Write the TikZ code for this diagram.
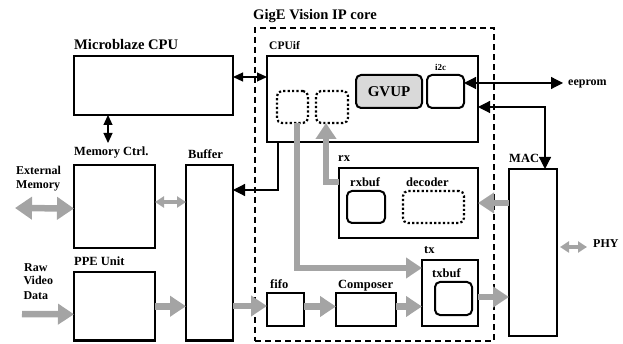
\documentclass[tikz,border=0pt]{standalone}
\usepackage{fontspec}
\setmainfont{Liberation Serif}
\usetikzlibrary{arrows.meta}
\definecolor{garrc}{HTML}{A4A4A4}
\definecolor{gfill}{HTML}{D9D9D9}
\begin{document}
\begin{tikzpicture}[x=1pt,y=-1pt,
  blk/.style={draw, line width=2.5pt, inner sep=0pt, outer sep=0pt, anchor=north west},
  gigebox/.style={draw, line width=1.5pt, dash pattern=on 6pt off 4pt, inner sep=0pt, outer sep=0pt, anchor=north west},
  rbox/.style={draw, line width=2pt, rounded corners=5pt, inner sep=0pt, outer sep=0pt, anchor=north west},
  dbox/.style={draw, line width=2.2pt, dash pattern=on 2.2pt off 2.2pt, rounded corners=5pt, inner sep=0pt, outer sep=0pt, anchor=north west},
  lab/.style={anchor=base west, inner sep=0pt, font=\bfseries\fontsize{12.5}{14}\selectfont},
  slab/.style={anchor=base west, inner sep=0pt, font=\bfseries\fontsize{12}{14}\selectfont},
  biglab/.style={anchor=base west, inner sep=0pt, font=\bfseries\fontsize{14.6}{18}\selectfont},
  barr/.style={line width=1.2pt, {Triangle[width=12pt,length=12pt]}-{Triangle[width=12pt,length=12pt]}},
  barrS/.style={line width=1.2pt, {Triangle[width=9pt,length=10pt]}-{Triangle[width=9pt,length=10pt]}},
  garr/.style={draw=garrc, line width=6.5pt, -{Triangle[width=20pt,length=16pt]}},
  gdbl/.style={draw=garrc, line width=6.5pt, {Triangle[width=22pt,length=17pt]}-{Triangle[width=22pt,length=17pt]}},
  gsm/.style={draw=garrc, line width=3.5pt, {Triangle[width=11pt,length=9pt]}-{Triangle[width=11pt,length=9pt]}}
]
\useasboundingbox (0,0) rectangle (623,344);

% GigE dashed container
\node[gigebox, minimum width=239pt, minimum height=313pt] (gige) at (255,28) {};
\node[biglab] (gigel) at (253,20) {GigE Vision IP core};

% boxes
\node[blk, minimum width=159pt, minimum height=59pt] (mb) at (74,56) {};
\node[biglab] (mbl) at (74,49.5) {Microblaze CPU};

\node[blk, minimum width=211pt, minimum height=86pt] (cpuif) at (267,56) {};
\node[anchor=base west, inner sep=0pt, font=\bfseries\fontsize{11.5}{14}\selectfont] (cpuifl) at (269,50) {CPUif};
\node[dbox, minimum width=31pt, minimum height=32pt] (d1) at (277,91) {};
\node[dbox, minimum width=32pt, minimum height=32pt] (d2) at (316,91) {};
\node[rbox, fill=gfill, minimum width=66pt, minimum height=33pt, font=\bfseries\fontsize{15}{18}\selectfont] (gvup) at (356,75) {GVUP};
\node[rbox, minimum width=37pt, minimum height=33pt] (i2c) at (427,75) {};
\node[anchor=base west, inner sep=0pt, font=\bfseries\fontsize{9}{11}\selectfont] (i2cl) at (435,70.5) {i2c};

\node[blk, minimum width=81pt, minimum height=83pt] (mem) at (74,165) {};
\node[lab] (meml) at (74,156) {Memory Ctrl.};
\node[blk, minimum width=47pt, minimum height=175.5pt] (buf) at (186,165) {};
\node[lab] (bufl) at (188,159) {Buffer};
\node[blk, minimum width=81pt, minimum height=68.5pt] (ppe) at (74,272) {};
\node[lab] (ppel) at (74,266) {PPE Unit};

\node[slab] (ext1) at (16,175) {External};
\node[slab] (ext2) at (16,188.5) {Memory};
\node[slab] (raw1) at (24,271.7) {Raw};
\node[slab] (raw2) at (23.3,285) {Video};
\node[slab] (raw3) at (23.3,299.3) {Data};

\node[blk, minimum width=139pt, minimum height=70pt] (rx) at (339,168) {};
\node[lab] (rxl) at (338,162) {rx};
\node[rbox, minimum width=38pt, minimum height=32pt] (rxbuf) at (347,191) {};
\node[lab] (rxbufl) at (350,187) {rxbuf};
\node[dbox, minimum width=61pt, minimum height=32pt] (dec) at (403,191) {};
\node[lab] (decl) at (406,187) {decoder};

\node[blk, minimum width=56pt, minimum height=66pt] (tx) at (422,260) {};
\node[lab] (txl) at (424,254) {tx};
\node[rbox, minimum width=37pt, minimum height=33pt] (txbuf) at (435,282) {};
\node[lab] (txbufl) at (432,278) {txbuf};

\node[blk, minimum width=37pt, minimum height=33pt] (fifo) at (267,293) {};
\node[lab] (fifol) at (270,288) {fifo};
\node[blk, minimum width=60pt, minimum height=33pt] (comp) at (336,293) {};
\node[lab] (compl) at (338,288) {Composer};

\node[blk, minimum width=48pt, minimum height=167pt] (mac) at (509,169) {};
\node[lab] (macl) at (509,163) {MAC};
\node[slab] (phy) at (593,248) {PHY};
\node[slab] (eeprom) at (568,86) {eeprom};

% free-end coordinates
\coordinate (mtop) at (108,143);
\coordinate (eeA) at (563,83);
\coordinate (extA) at (15,208);
\coordinate (rawA) at (22,314);
\coordinate (phyA) at (560,247);

% black connectors
\draw[barrS] ([yshift=-21pt]mb.north east) -- ([yshift=-21pt]cpuif.north west);
\draw[barrS] ([xshift=34pt]mb.south west) -- (mtop);
\draw[line width=1.2pt, -{Triangle[width=12pt,length=12pt]}] ([xshift=11pt]cpuif.south west) |- ([yshift=-25pt]buf.north east);
\draw[barr] ([yshift=8.5pt]i2c.east) -- (eeA);
\draw[barr] ([yshift=-51pt]cpuif.north east) -| ([xshift=36pt]mac.north west);

% gray connectors
\draw[gdbl] (extA) -- ([yshift=-2pt]mem.west);
\draw[gsm] ([yshift=4.5pt]mem.east) -- ([yshift=4.5pt]mem.east -| buf.west);
\draw[garr] (rawA) -- ([yshift=-8pt]ppe.west);
\draw[garr] (ppe.east) -- (ppe.east -| buf.west);
\draw[garr] ([yshift=3.5pt]fifo.west -| buf.east) -- ([yshift=3.5pt]fifo.west);
\draw[garr] ([yshift=3pt]fifo.east) -- ([yshift=3pt]comp.west);
\draw[garr] ([yshift=3pt]comp.east) -- ([yshift=3pt]comp.east -| tx.west);
\draw[garr] ([yshift=-4pt]tx.east) -- ([yshift=-4pt]tx.east -| mac.west);
\draw[garr] (rx.east -| mac.west) -- (rx.east);
\draw[gsm] (phyA) -- ([xshift=-6pt]phy.west |- phyA);
\draw[garr] ([xshift=4.5pt]d1.south) |- ([yshift=-8pt]tx.north west);
\draw[garr] ([yshift=-14pt]rx.north west) -| ([xshift=-6pt]d2.south);
\end{tikzpicture}
\end{document}
